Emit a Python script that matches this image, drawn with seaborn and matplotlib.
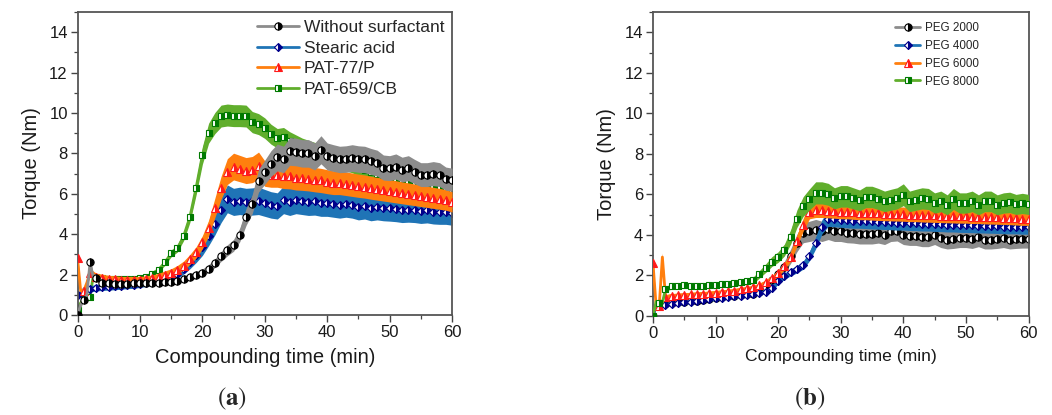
import numpy as np
import matplotlib
matplotlib.use('Agg')
import matplotlib.pyplot as plt
from matplotlib.ticker import MultipleLocator
import seaborn as sns

# compounding time (min): half-minute steps over the loading spikes, then every minute
time_min = [0, 0.5, 1, 1.5, 2, 2.5] + list(range(3, 61))

# (a) effect of surfactant type, torque in Nm
labels_a = ['Without surfactant', 'Stearic acid', 'PAT-77/P', 'PAT-659/CB']
torque_none = [0.0, 0.5, 0.75, 1.0, 2.6, 1.9,
               1.85, 1.6, 1.57, 1.55, 1.53, 1.55, 1.57, 1.58, 1.6, 1.6,
               1.6, 1.62, 1.65, 1.7, 1.77, 1.9, 1.98, 2.1, 2.3, 2.56,
               2.9, 3.2, 3.45, 3.97, 4.85, 5.5, 6.65, 7.07, 7.5, 7.8,
               7.7, 8.1, 8.07, 8.0, 8.0, 7.85, 8.18, 7.85, 7.77, 7.7,
               7.72, 7.77, 7.72, 7.7, 7.6, 7.52, 7.3, 7.27, 7.35, 7.2,
               7.27, 7.1, 6.95, 6.95, 7.0, 6.95, 6.75, 6.7]
torque_stearic = [1.0, 1.1, 1.2, 1.25, 1.3, 1.32,
                  1.35, 1.38, 1.4, 1.42, 1.45, 1.48, 1.5, 1.55, 1.6, 1.65,
                  1.72, 1.8, 1.9, 2.05, 2.3, 2.6, 2.95, 3.35, 3.9, 4.5,
                  5.2, 5.75, 5.6, 5.65, 5.6, 5.62, 5.65, 5.55, 5.45, 5.4,
                  5.7, 5.6, 5.7, 5.65, 5.6, 5.62, 5.55, 5.55, 5.5, 5.45,
                  5.5, 5.45, 5.35, 5.4, 5.3, 5.35, 5.3, 5.28, 5.25, 5.2,
                  5.22, 5.2, 5.15, 5.18, 5.12, 5.1, 5.1, 5.05]
torque_pat77 = [2.8, 1.2, 1.2, 1.6, 2.1, 2.0,
                1.9, 1.85, 1.8, 1.78, 1.75, 1.75, 1.75, 1.75, 1.78, 1.82,
                1.9, 2.0, 2.1, 2.25, 2.45, 2.75, 3.1, 3.6, 4.3, 5.3,
                6.3, 7.1, 7.35, 7.25, 7.15, 7.2, 7.4, 7.0, 6.95, 6.95,
                6.88, 6.86, 6.8, 6.78, 6.75, 6.7, 6.66, 6.6, 6.55, 6.55,
                6.5, 6.45, 6.4, 6.36, 6.3, 6.25, 6.2, 6.15, 6.1, 6.05,
                6.0, 5.95, 5.9, 5.85, 5.8, 5.75, 5.7, 5.6]
torque_pat659 = [0.3, 0.6, 0.8, 0.85, 0.9, 1.9,
                 1.9, 1.85, 1.8, 1.8, 1.78, 1.78, 1.8, 1.82, 1.9, 2.05,
                 2.25, 2.6, 3.05, 3.3, 3.9, 4.85, 6.3, 7.9, 9.0, 9.5,
                 9.85, 9.9, 9.87, 9.87, 9.85, 9.55, 9.45, 9.25, 8.95, 8.75,
                 8.8, 8.6, 8.45, 8.3, 8.2, 8.1, 8.0, 7.9, 7.8, 7.7,
                 7.55, 7.45, 7.3, 7.2, 7.1, 7.0, 6.95, 6.85, 6.8, 6.75,
                 6.65, 6.6, 6.5, 6.45, 6.4, 6.3, 6.25, 6.2]

# (b) effect of PEG molecular weight, torque in Nm
labels_b = ['PEG 2000', 'PEG 4000', 'PEG 6000', 'PEG 8000']
torque_peg2000 = [0.0, 0.5, 0.55, 0.6, 0.6, 0.62,
                  0.65, 0.68, 0.7, 0.72, 0.75, 0.8, 0.85, 0.9, 0.93, 0.96,
                  1.0, 1.03, 1.06, 1.1, 1.2, 1.4, 1.75, 2.05, 2.4, 2.95,
                  3.6, 4.1, 4.17, 4.25, 4.17, 4.28, 4.17, 4.17, 4.1, 4.08,
                  4.03, 4.03, 4.03, 4.08, 4.0, 4.17, 4.2, 4.0, 3.95, 3.95,
                  3.88, 3.88, 4.0, 3.83, 3.75, 3.78, 3.83, 3.83, 3.78, 3.88,
                  3.75, 3.75, 3.78, 3.83, 3.75, 3.78, 3.8, 3.8]
torque_peg4000 = [0.0, 0.45, 0.5, 0.5, 0.55, 0.58,
                  0.6, 0.63, 0.67, 0.7, 0.74, 0.78, 0.82, 0.86, 0.9, 0.93,
                  0.96, 1.0, 1.03, 1.07, 1.12, 1.2, 1.35, 1.7, 1.95, 2.15,
                  2.3, 2.5, 2.95, 3.6, 4.4, 4.8, 4.78, 4.75, 4.72, 4.7,
                  4.7, 4.68, 4.66, 4.65, 4.63, 4.62, 4.6, 4.6, 4.58, 4.57,
                  4.55, 4.55, 4.53, 4.52, 4.5, 4.5, 4.48, 4.47, 4.46, 4.45,
                  4.44, 4.43, 4.42, 4.41, 4.4, 4.4, 4.38, 4.38]
torque_peg6000 = [2.6, 0.5, 0.5, 2.9, 0.95, 0.97,
                  1.0, 1.02, 1.04, 1.06, 1.08, 1.1, 1.12, 1.15, 1.18, 1.21,
                  1.25, 1.3, 1.35, 1.4, 1.5, 1.65, 1.85, 2.1, 2.45, 2.9,
                  3.7, 4.5, 5.15, 5.22, 5.22, 5.2, 5.18, 5.15, 5.15, 5.12,
                  5.1, 5.1, 5.08, 5.06, 5.05, 5.04, 5.03, 5.02, 5.0, 5.0,
                  4.98, 4.97, 4.96, 4.95, 4.94, 4.93, 4.92, 4.92, 4.9, 4.9,
                  4.88, 4.87, 4.86, 4.85, 4.84, 4.82, 4.8, 4.8]
torque_peg8000 = [0.0, 0.7, 0.65, 0.65, 1.3, 1.4,
                  1.45, 1.48, 1.5, 1.48, 1.45, 1.47, 1.5, 1.52, 1.55, 1.57,
                  1.6, 1.65, 1.7, 1.75, 2.05, 2.35, 2.68, 2.9, 3.25, 3.9,
                  4.8, 5.4, 5.75, 6.07, 6.07, 6.0, 5.8, 5.9, 5.9, 5.8,
                  5.7, 5.87, 5.87, 5.77, 5.65, 5.73, 5.8, 5.98, 5.65, 5.73,
                  5.8, 5.77, 5.57, 5.65, 5.48, 5.77, 5.57, 5.57, 5.65, 5.48,
                  5.65, 5.65, 5.48, 5.57, 5.6, 5.5, 5.55, 5.5]

series_a = [torque_none, torque_stearic, torque_pat77, torque_pat659]
series_b = [torque_peg2000, torque_peg4000, torque_peg6000, torque_peg8000]

# styles
line_colors = ['#8c8c8c', '#1f74b6', '#ff7f0e', '#60ae2c']
marker_colors = ['#000000', '#00008b', '#ff1a1a', '#007a00']
markers = ['o', 'D', '^', 's']
marker_sizes = [5.2, 4.4, 5.4, 5.0]
marker_idx = [i for i, t in enumerate(time_min) if float(t).is_integer()]

sns.set_theme(style='ticks')
plt.rcParams['font.family'] = ['Liberation Sans', 'DejaVu Sans']
plt.rcParams['mathtext.fontset'] = 'stix'


def draw_panel(ax, series, labels, band, zorders):
    for vals, lab, lc, mc, mk, ms, r, z in zip(series, labels, line_colors, marker_colors,
                                              markers, marker_sizes, band, zorders):
        v = np.asarray(vals, dtype=float)
        half = np.maximum(v * r, 0.1)
        ax.fill_between(time_min, v - half, v + half, color=lc, lw=0, zorder=z)
        sns.lineplot(x=time_min, y=v, ax=ax, color=lc, lw=2, marker=mk, markersize=ms,
                     markevery=marker_idx, fillstyle='right', markerfacecolor=mc,
                     markerfacecoloralt='white', markeredgecolor=mc, markeredgewidth=0.8,
                     label=lab, zorder=z + 0.5, sort=False, estimator=None)
    ax.set_xlim(0, 60)
    ax.set_ylim(0, 15)
    ax.set_xticks(range(0, 61, 10))
    ax.set_yticks(range(0, 15, 2))
    ax.xaxis.set_minor_locator(MultipleLocator(5))
    ax.yaxis.set_minor_locator(MultipleLocator(1))
    ax.tick_params(which='major', direction='out', length=5, width=1, color='#444444',
                   labelsize=12, labelcolor='#1a1a1a', pad=2)
    ax.tick_params(which='minor', direction='out', length=3, width=0.9, color='#444444')
    for sp in ax.spines.values():
        sp.set_color('#555555')
        sp.set_linewidth(1.3)
    ax.set_ylabel('Torque (Nm)', fontsize=14.5, color='#1a1a1a', labelpad=6)


fig = plt.figure(figsize=(10.52, 4.15), dpi=100)
ax_a = fig.add_axes([0.0737, 0.241, 0.356, 0.730])
ax_b = fig.add_axes([0.6207, 0.239, 0.357, 0.732])

draw_panel(ax_a, series_a, labels_a, [0.085, 0.12, 0.09, 0.055], [4, 2, 3, 1])
ax_a.set_xlabel('Compounding time (min)', fontsize=14.5, color='#1a1a1a', labelpad=6)
ax_a.legend(loc='upper right', frameon=False, fontsize=12.5, handlelength=2.4,
            handletextpad=0.3, labelspacing=0.32, borderaxespad=0.25, borderpad=0.2)

draw_panel(ax_b, series_b, labels_b, [0.12, 0.08, 0.07, 0.09], [1, 2, 3, 4])
ax_b.set_xlabel('Compounding time (min)', fontsize=12.6, color='#1a1a1a', labelpad=6)
ax_b.legend(loc='upper left', bbox_to_anchor=(0.625, 0.99), frameon=False, fontsize=8.4,
            handlelength=2.2, handletextpad=0.4, labelspacing=0.5, borderaxespad=0.3,
            borderpad=0.3)

fig.text(0.2205, 0.04, r'$(\mathbf{a})$', ha='center', va='center', fontsize=18)
fig.text(0.770, 0.04, r'$(\mathbf{b})$', ha='center', va='center', fontsize=18)

fig.savefig('out.png', dpi=100)
